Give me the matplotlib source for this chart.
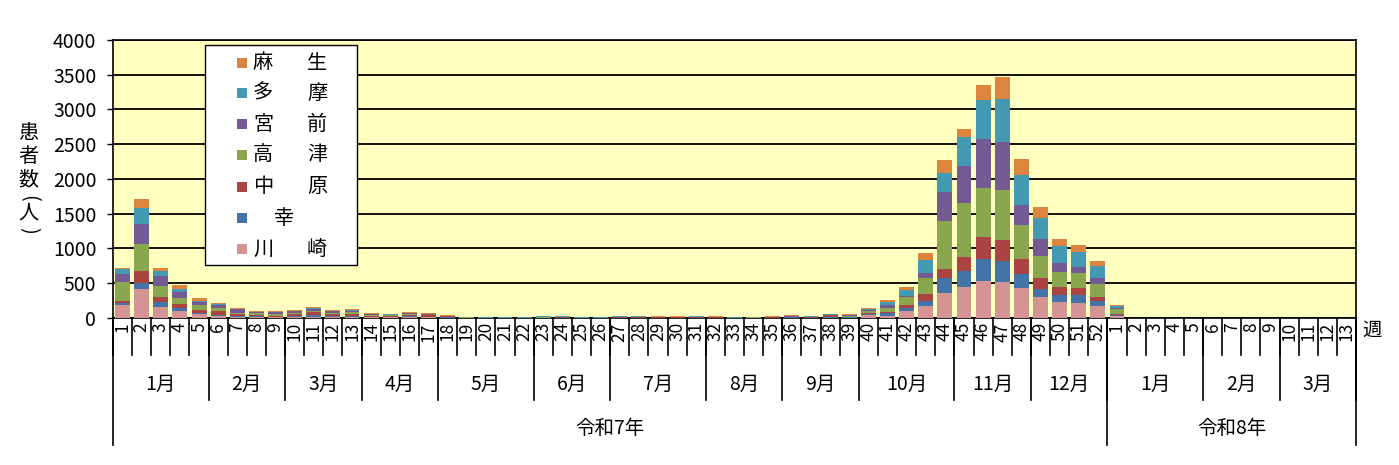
import matplotlib
matplotlib.use("Agg")
import matplotlib.pyplot as plt
from matplotlib.patches import Rectangle
import numpy as np

plt.rcParams['font.family'] = ['Noto Sans CJK JP', 'DejaVu Sans']

# ---- data ----
weeks_r7 = [str(i) for i in range(1, 53)]
weeks_r8 = [str(i) for i in range(1, 14)]
week_labels = weeks_r7 + weeks_r8

months_r7 = ["1月", "2月", "3月", "4月", "5月", "6月", "7月", "8月", "9月", "10月", "11月", "12月"]
months_r7_len = [5, 4, 4, 4, 5, 4, 5, 4, 4, 5, 4, 4]
months_r8 = ["1月", "2月", "3月"]
months_r8_len = [5, 4, 4]
years = ["令和7年", "令和8年"]

series_names = ["川崎", "幸", "中原", "高津", "宮前", "多摩", "麻生"]
colors = ["#D49494", "#4473A8", "#A94442", "#8AA64E", "#735A92", "#449AB2", "#DD843F"]

kawasaki = [187, 422, 163, 106, 58, 34, 14, 10, 10, 15, 20, 15, 15, 10, 8, 10, 8, 5, 2, 1, 1, 1, 2, 2, 1, 1,
            2, 2, 2, 2, 2, 2, 1, 1, 2, 3, 2, 5, 5, 44, 29, 101, 168, 355, 442, 528, 514, 427, 298, 226, 211, 168,
            29, 0, 0, 0, 0, 0, 0, 0, 0, 0, 0, 0, 0]
saiwai = [29, 82, 67, 38, 19, 14, 14, 15, 10, 20, 25, 20, 20, 10, 10, 15, 8, 3, 1, 1, 1, 1, 2, 3, 1, 1,
          2, 3, 2, 2, 3, 2, 2, 1, 2, 5, 2, 5, 5, 15, 44, 43, 72, 216, 230, 317, 302, 202, 115, 101, 115, 72,
          10, 0, 0, 0, 0, 0, 0, 0, 0, 0, 0, 0, 0]
nakahara = [29, 173, 72, 58, 38, 53, 29, 25, 15, 20, 35, 20, 25, 10, 10, 15, 20, 15, 2, 1, 3, 3, 3, 3, 3, 3,
            4, 4, 10, 4, 4, 4, 1, 1, 4, 5, 10, 30, 10, 15, 15, 38, 101, 130, 202, 317, 302, 216, 158, 115, 101, 58,
            14, 0, 0, 0, 0, 0, 0, 0, 0, 0, 0, 0, 0]
takatsu = [273, 388, 158, 86, 72, 43, 14, 15, 25, 20, 25, 20, 25, 15, 10, 15, 12, 5, 6, 2, 1, 1, 12, 4, 1, 1,
           5, 4, 3, 4, 4, 4, 2, 7, 4, 5, 4, 5, 10, 29, 59, 115, 230, 691, 778, 706, 720, 490, 317, 216, 216, 187,
           72, 0, 0, 0, 0, 0, 0, 0, 0, 0, 0, 0, 0]
miyamae = [115, 288, 144, 86, 43, 43, 58, 20, 20, 20, 25, 20, 20, 10, 8, 12, 8, 3, 1, 1, 1, 1, 2, 3, 1, 1,
           3, 3, 2, 3, 3, 3, 1, 1, 3, 5, 3, 5, 10, 15, 44, 19, 72, 418, 533, 706, 691, 288, 245, 130, 86, 86,
           14, 0, 0, 0, 0, 0, 0, 0, 0, 0, 0, 0, 0]
tama = [72, 230, 72, 43, 14, 14, 5, 5, 10, 10, 15, 10, 15, 7, 7, 12, 6, 2, 1, 7, 1, 1, 2, 9, 1, 1,
        8, 6, 2, 4, 6, 4, 6, 2, 4, 10, 2, 1, 10, 15, 44, 86, 187, 274, 418, 562, 619, 432, 302, 245, 216, 173,
        29, 0, 0, 0, 0, 0, 0, 0, 0, 0, 0, 0, 0]
asao = [19, 130, 43, 62, 43, 14, 14, 10, 10, 10, 13, 10, 10, 10, 5, 7, 10, 10, 1, 1, 6, 6, 6, 5, 6, 6,
        5, 7, 8, 10, 7, 10, 1, 1, 10, 10, 6, 8, 9, 15, 29, 38, 101, 187, 115, 216, 317, 230, 158, 101, 101, 72,
        14, 0, 0, 0, 0, 0, 0, 0, 0, 0, 0, 0, 0]

series = [kawasaki, saiwai, nakahara, takatsu, miyamae, tama, asao]

# ---- figure ----
W, H = 1399, 465
fig = plt.figure(figsize=(W / 100, H / 100), dpi=100)
L, R, T, B = 113, 1356, 40, 318
ax = fig.add_axes([L / W, 1 - B / H, (R - L) / W, (B - T) / H])
ax.set_facecolor("#FFFFC0")

x = np.arange(len(week_labels))
bottom = np.zeros(len(x))
for name, vals, c in zip(series_names, series, colors):
    v = np.array(vals, dtype=float)
    ax.bar(x, v, bottom=bottom, width=0.78, color=c, edgecolor='none', zorder=3)
    bottom += v

ax.set_xlim(-0.5, len(x) - 0.5)
ax.set_ylim(0, 4000)
ax.set_yticks(np.arange(0, 4001, 500))
ax.yaxis.grid(True, color="black", linewidth=1.3, zorder=1)
ax.set_axisbelow(True)
ax.tick_params(axis='y', labelsize=14, length=4, width=1, pad=8, direction='out')
ax.set_xticks(x)
ax.set_xticklabels(week_labels, rotation=90, fontsize=12.5)
ax.tick_params(axis='x', length=0, pad=3)
for s in ax.spines.values():
    s.set_color("black")
    s.set_linewidth(1.2)

# separators under the axis
tr = ax.get_xaxis_transform()
def ypx(py):
    return (B - py) / (B - T)

for k in range(len(x) + 1):
    ax.plot([k - 0.5, k - 0.5], [0, ypx(355)], color="black", lw=1.2, transform=tr, clip_on=False)

pos = -0.5
month_bounds = []
month_centers = []
for lens, names in [(months_r7_len, months_r7), (months_r8_len, months_r8)]:
    for n, nm in zip(lens, names):
        month_centers.append((pos + n / 2, nm))
        pos += n
        month_bounds.append(pos)
for b in month_bounds:
    ax.plot([b, b], [0, ypx(400)], color="black", lw=1.2, transform=tr, clip_on=False)
for c, nm in month_centers:
    ax.text(c, ypx(384), nm, transform=tr, ha='center', va='center', fontsize=14)

n7 = len(weeks_r7)
n8 = len(weeks_r8)
for b in [-0.5, n7 - 0.5, n7 + n8 - 0.5]:
    ax.plot([b, b], [0, ypx(445)], color="black", lw=1.2, transform=tr, clip_on=False)
ax.text((n7 - 1) / 2, ypx(428), years[0], transform=tr, ha='center', va='center', fontsize=14)
ax.text(n7 + (n8 - 1) / 2, ypx(428), years[1], transform=tr, ha='center', va='center', fontsize=14)

# week unit label
fig.text(1372 / W, 1 - 330 / H, "週", ha='center', va='center', fontsize=14)

# y label (vertical stacked, parentheses turned)
for ch, py, rot in [("患", 134, 0), ("者", 157, 0), ("数", 180, 0), ("(", 198, -90),
                    ("人", 213, 0), (")", 230, -90)]:
    fig.text(28 / W, 1 - py / H, ch, ha='center', va='center', fontsize=14.5, rotation=rot,
             rotation_mode='anchor' if rot else 'default')

# legend (manual)
lx0, ly0, lx1, ly1 = 205, 45, 357, 265
fig.patches.append(Rectangle((lx0 / W, 1 - ly1 / H), (lx1 - lx0) / W, (ly1 - ly0) / H,
                             transform=fig.transFigure, facecolor="white", edgecolor="black",
                             linewidth=1.0, zorder=10))
rows = [63, 93, 124, 155, 187, 218, 249]
for (name, c), ry in zip(list(zip(series_names, colors))[::-1], rows):
    fig.patches.append(Rectangle((237 / W, 1 - (ry + 5) / H), 10 / W, 10 / H,
                                 transform=fig.transFigure, facecolor=c, edgecolor='none', zorder=11))
    if len(name) == 2:
        fig.text(253 / W, 1 - ry / H, name[0], ha='left', va='center', fontsize=14.5, zorder=12)
        fig.text(307 / W, 1 - ry / H, name[1], ha='left', va='center', fontsize=14.5, zorder=12)
    else:
        fig.text(274 / W, 1 - ry / H, name, ha='left', va='center', fontsize=14.5, zorder=12)

fig.savefig("out.png", dpi=100, facecolor="white")
